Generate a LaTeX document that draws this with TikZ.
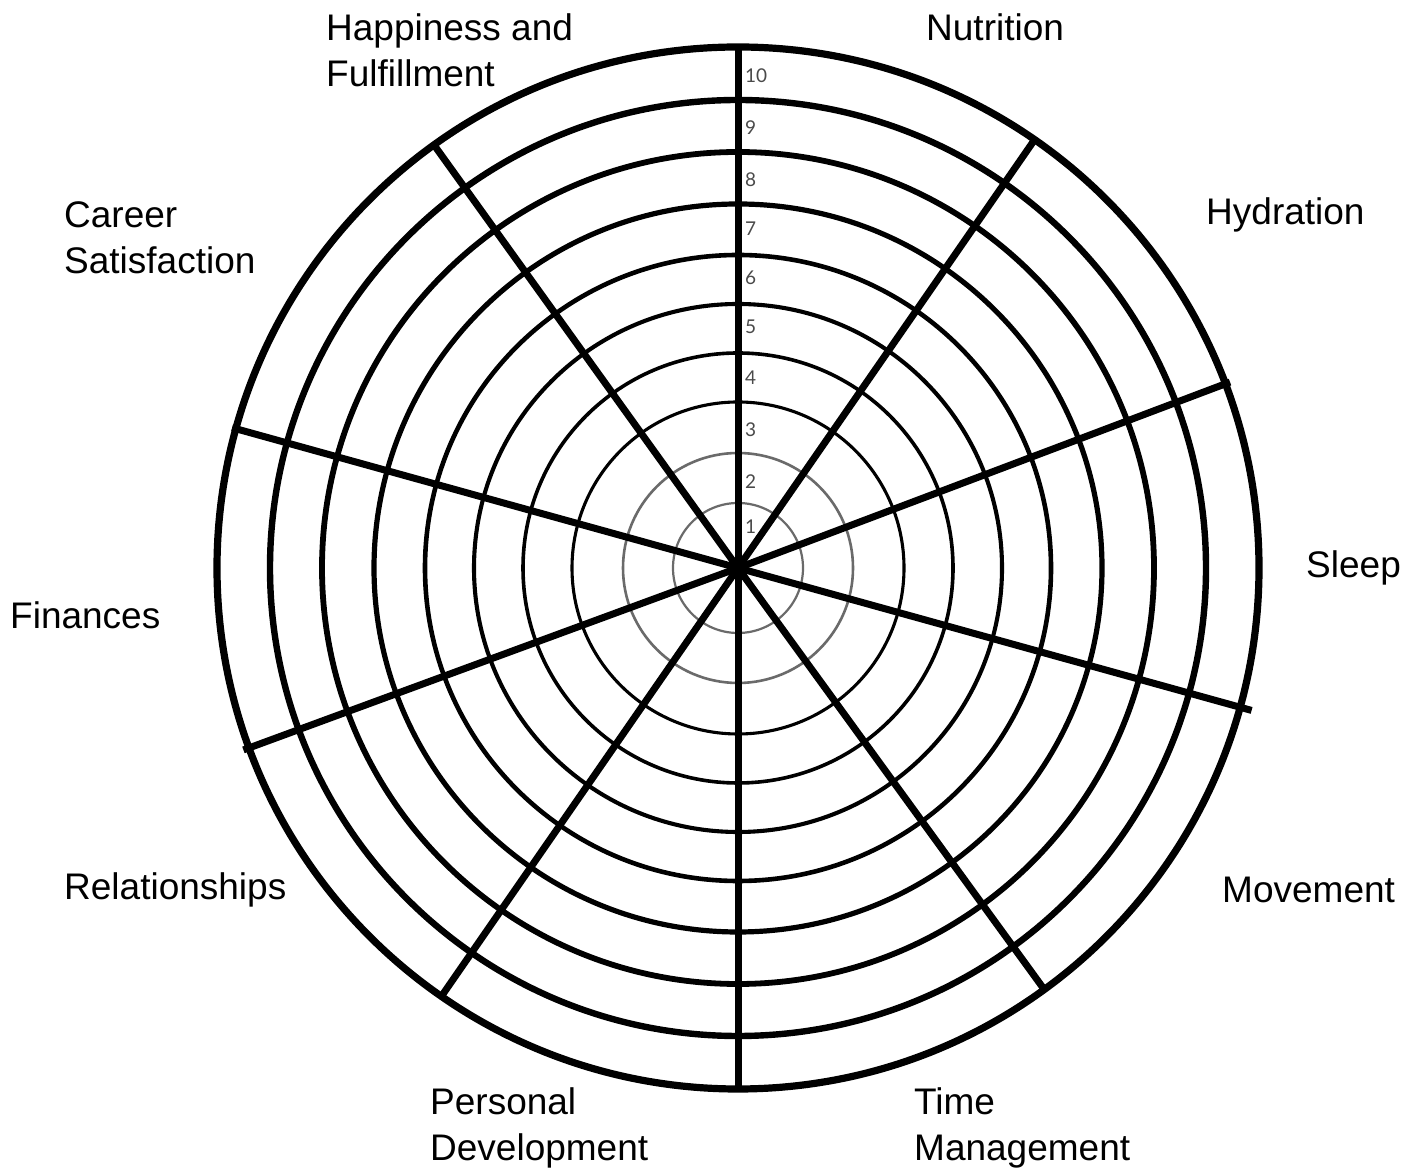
\documentclass[tikz,border=0pt]{standalone}
\usepackage{fontspec}
\setmainfont{Liberation Sans}
\newfontfamily\numfont{Lato}
\definecolor{ringgray}{HTML}{6A6A6A}
\definecolor{numgray}{HTML}{4A4A4A}
\begin{document}
\begin{tikzpicture}[x=1pt,y=1pt,
  lbl/.style={inner sep=0pt, anchor=west, align=left, font=\fontsize{37}{46}\selectfont},
  num/.style={inner sep=0pt, anchor=west, text=numgray, font=\numfont\fontsize{19}{19}\selectfont},
  spoke/.style={line width=7pt, line cap=butt}]
\useasboundingbox (0,0) rectangle (1419,1172);
\fill[white] (0,0) rectangle (1419,1172);
\coordinate (c) at (738,604);
% rings
\foreach \r/\w/\col in {65/2.2/ringgray,115/2.6/ringgray,166/3.1/black,215/3.6/black,264/4.1/black,313/4.6/black,364/5.2/black,416/5.8/black,468/6.4/black,521/7.2/black}
  \draw[line width=\w pt, color=\col] (c) circle[radius=\r pt];
% spokes
\foreach \a/\l in {90/521,55.3/518,20.7/526,-15.5/533,-54/518,-90/521,-124.7/523,-159.8/527,164.5/525,125.7/521}
  \draw[spoke] (c) -- ++(\a:\l pt);
% scale numbers
\foreach \n/\y in {10/76,9/128,8/180,7/229,6/278,5/327,4/378,3/430,2/482,1/527}
  \node[num] (n\n) at (745,1172-\y) {\n};
% labels
\node[lbl] (happy) at (326,1122) {Happiness and\\Fulfillment};
\node[lbl] (nutr) at (926,1145) {Nutrition};
\node[lbl] (hydr) at (1206,957) {Hydration};
\node[lbl] (sleep) at (1306,604) {Sleep};
\node[lbl] (move) at (1222,282) {Movement};
\node[lbl] (time) at (914,44) {Time\\Management};
\node[lbl] (pers) at (430,44) {Personal\\Development};
\node[lbl] (rel) at (64,282) {Relationships};
\node[lbl] (fin) at (10,557) {Finances};
\node[lbl] (career) at (64,934) {Career\\Satisfaction};
\end{tikzpicture}
\end{document}
